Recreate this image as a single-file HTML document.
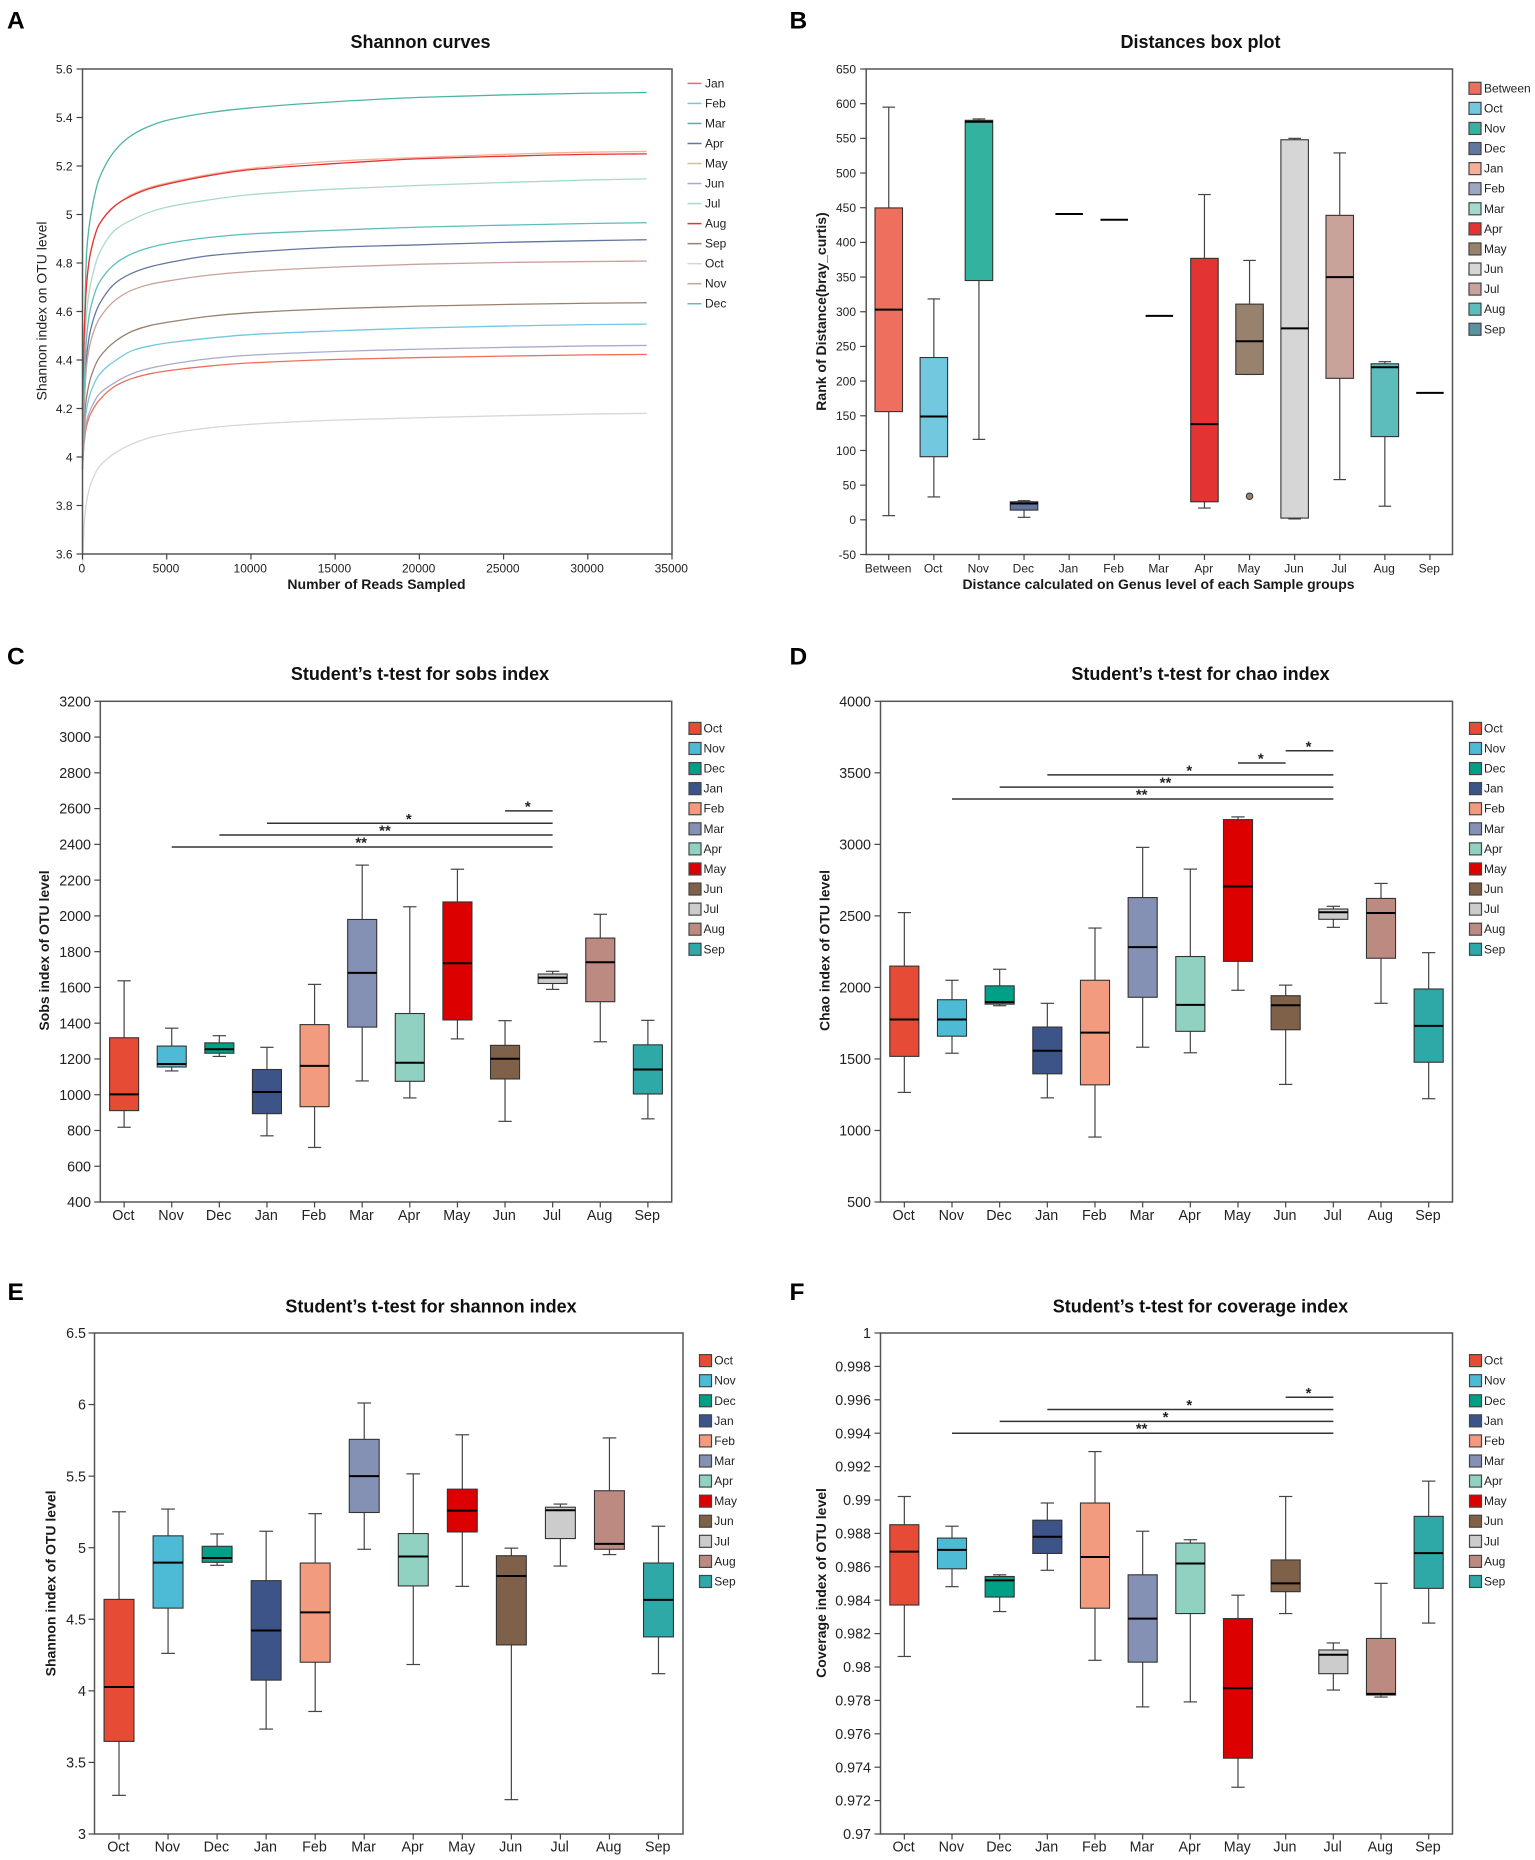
<!DOCTYPE html>
<html lang="en">
<head>
<meta charset="utf-8">
<title>Diversity index charts</title>
<style>
html,body{margin:0;padding:0;background:#fff;}
svg{display:block;filter:blur(0.3px);}
text{font-family:"Liberation Sans",Arial,sans-serif;fill:#222;}
.title{font-size:18px;font-weight:bold;text-anchor:middle;fill:#111;}
.letter{font-size:24.5px;font-weight:bold;fill:#000;}
.ax{font-size:14px;font-weight:bold;text-anchor:middle;fill:#1a1a1a;}
.axr{font-size:14px;text-anchor:middle;fill:#222;}
</style>
</head>
<body>
<svg id="fig" xmlns="http://www.w3.org/2000/svg" width="1535" height="1860" viewBox="0 0 1535 1860">
  <rect x="0" y="0" width="1535" height="1860" fill="#fff"/>
  <text class="letter" x="7" y="28.5">A</text>
  <text class="letter" x="789.5" y="28.5">B</text>
  <text class="letter" x="7" y="664.5">C</text>
  <text class="letter" x="789.5" y="664.5">D</text>
  <text class="letter" x="7.5" y="1300">E</text>
  <text class="letter" x="789.5" y="1300">F</text>

  <text class="title" x="420.5" y="48">Shannon curves</text>
  <text class="title" x="1200.5" y="48">Distances box plot</text>
  <text class="title" x="420" y="680">Student’s t-test for sobs index</text>
  <text class="title" x="1200.5" y="680">Student’s t-test for chao index</text>
  <text class="title" x="431" y="1312.5">Student’s t-test for shannon index</text>
  <text class="title" x="1200.5" y="1312.5">Student’s t-test for coverage index</text>

  <text class="axr" transform="translate(46.7 311) rotate(-90)">Shannon index on OTU level</text>
  <text class="ax" x="376.5" y="589">Number of Reads Sampled</text>
  <text class="ax" transform="translate(826 311.5) rotate(-90)">Rank of Distance(bray_curtis)</text>
  <text class="ax" x="1158.5" y="589">Distance calculated on Genus level of each Sample groups</text>
  <text class="ax" transform="translate(49 950.5) rotate(-90)">Sobs index of OTU level</text>
  <text class="ax" transform="translate(829.6 950.5) rotate(-90)">Chao index of OTU level</text>
  <text class="ax" transform="translate(55.5 1583.4) rotate(-90)">Shannon index of OTU level</text>
  <text class="ax" transform="translate(826 1583) rotate(-90)">Coverage index of OTU level</text>
</svg>

<script>
// ---------- Panel A data ----------
const curveMonths = ['Jan','Feb','Mar','Apr','May','Jun','Jul','Aug','Sep','Oct','Nov','Dec'];
const readsSampled = [0,100,250,500,1000,2000,3000,4000,5000,7500,10000,15000,20000,25000,30000,33500];
const shannonJan = [3.95,4.06,4.13,4.18,4.235,4.295,4.325,4.343,4.355,4.375,4.388,4.402,4.41,4.416,4.421,4.423];
const shannonFeb = [3.95,4.10,4.20,4.27,4.34,4.40,4.44,4.458,4.47,4.49,4.505,4.52,4.532,4.54,4.546,4.548];
const shannonMar = [4.2,4.5,4.85,5.0,5.15,5.27,5.33,5.365,5.388,5.42,5.44,5.465,5.483,5.493,5.50,5.503];
const shannonApr = [4.0,4.25,4.42,4.53,4.63,4.72,4.76,4.784,4.80,4.83,4.845,4.865,4.875,4.885,4.892,4.896];
const shannonMay = [4.2,4.5,4.72,4.85,4.96,5.04,5.085,5.112,5.13,5.165,5.19,5.22,5.235,5.248,5.257,5.26];
const shannonJun = [3.95,4.08,4.15,4.2,4.26,4.31,4.345,4.366,4.38,4.405,4.42,4.435,4.445,4.452,4.458,4.46];
const shannonJul = [4.1,4.4,4.6,4.72,4.84,4.94,4.98,5.01,5.03,5.06,5.082,5.105,5.12,5.132,5.142,5.147];
const shannonAug = [4.2,4.5,4.72,4.85,4.96,5.04,5.08,5.107,5.125,5.16,5.185,5.21,5.23,5.24,5.248,5.25];
const shannonSep = [3.95,4.15,4.25,4.33,4.41,4.48,4.52,4.542,4.555,4.58,4.595,4.612,4.622,4.629,4.634,4.636];
const shannonOct = [3.55,3.72,3.82,3.89,3.96,4.02,4.055,4.08,4.095,4.12,4.135,4.152,4.162,4.17,4.177,4.18];
const shannonNov = [3.95,4.2,4.38,4.48,4.57,4.65,4.69,4.712,4.725,4.75,4.765,4.783,4.795,4.802,4.806,4.808];
const shannonDec = [4.05,4.3,4.5,4.62,4.72,4.80,4.84,4.864,4.88,4.905,4.92,4.935,4.948,4.956,4.963,4.966];
const curveXTicks = [0,5000,10000,15000,20000,25000,30000,35000];
const curveYTicks = [3.6,3.8,4,4.2,4.4,4.6,4.8,5,5.2,5.4,5.6];

// ---------- Panel B data ----------
const distGroups = ['Between','Oct','Nov','Dec','Jan','Feb','Mar','Apr','May','Jun','Jul','Aug','Sep'];
const distHigh   = [595,318.5,578,27.6,441,432.6,294,469,374,550,529,228,183];
const distQ3     = [449.7,234,576,26,441,432.6,294,377,311,548,439,225,183];
const distMedian = [303,149,574,23.6,441,432.6,294,138,257.5,276,350,220,183];
const distQ1     = [156,91,345,14,441,432.6,294,26,209.6,2.5,204,120,183];
const distLow    = [6,33,116,3.6,441,432.6,294,17,209.6,1.3,58,19.6,183];
const distOutlierGroups = ['May'];
const distOutlierValues = [34];
const distYTicks = [-50,0,50,100,150,200,250,300,350,400,450,500,550,600,650];

// ---------- Shared months for panels C-F ----------
const testMonths = ['Oct','Nov','Dec','Jan','Feb','Mar','Apr','May','Jun','Jul','Aug','Sep'];

// ---------- Panel C data ----------
const sobsHigh   = [1637,1372,1330,1265,1617,2284,2051,2261,1414,1690,2009,1416];
const sobsQ3     = [1318.5,1272,1290,1141,1392,1980,1454,2078,1276,1675,1876,1279];
const sobsMedian = [1002,1172,1254,1015,1161,1681,1179,1735,1201,1655,1741,1141];
const sobsQ1     = [911,1155,1232,894,933,1378,1075,1418,1088,1622,1520,1004];
const sobsLow    = [818,1133,1214,770,705,1077,982,1312,851,1589,1296,865];
const sobsYTicks = [400,600,800,1000,1200,1400,1600,1800,2000,2200,2400,2600,2800,3000,3200];
const sobsSigFrom  = ['Jun','Jan','Dec','Nov'];
const sobsSigTo    = ['Jul','Jul','Jul','Jul'];
const sobsSigLevel = [2587,2518,2452,2385];
const sobsSigStars = ['*','*','**','**'];

// ---------- Panel D data ----------
const chaoHigh   = [2523,2050,2127,1889,2415,2979,2827,3192,2016,2567,2727,2243];
const chaoQ3     = [2149,1914,2011,1723,2050,2628,2216,3173,1942,2548,2622,1989];
const chaoMedian = [1776,1776,1897,1557,1684,2282,1878,2705,1875,2525,2520,1731];
const chaoQ1     = [1518,1659,1883,1396,1319,1931,1693,2182,1704,2476,2204,1477];
const chaoLow    = [1266,1540,1872,1228,954,1582,1543,1980,1322,2420,1889,1222];
const chaoYTicks = [500,1000,1500,2000,2500,3000,3500,4000];
const chaoSigFrom  = ['Jun','May','Jan','Dec','Nov'];
const chaoSigTo    = ['Jul','Jun','Jul','Jul','Jul'];
const chaoSigLevel = [3654,3569,3486,3400,3317];
const chaoSigStars = ['*','*','*','**','**'];

// ---------- Panel E data ----------
const shanHigh   = [5.251,5.27,5.096,5.115,5.238,6.011,5.516,5.789,4.997,5.305,5.767,5.15];
const shanQ3     = [4.639,5.083,5.01,4.77,4.893,5.757,5.099,5.409,4.944,5.283,5.398,4.893];
const shanMedian = [4.027,4.896,4.928,4.422,4.548,5.5,4.939,5.259,4.802,5.262,5.027,4.636];
const shanQ1     = [3.647,4.578,4.898,4.075,4.2,5.246,4.733,5.11,4.321,5.064,4.989,4.377];
const shanLow    = [3.27,4.262,4.877,3.733,3.856,4.989,4.184,4.73,3.24,4.872,4.952,4.12];
const shanYTicks = [3,3.5,4,4.5,5,5.5,6,6.5];

// ---------- Panel F data ----------
const covHigh   = [0.99021,0.98843,0.98552,0.98982,0.9929,0.98813,0.98762,0.9843,0.99021,0.98144,0.98501,0.99113];
const covQ3     = [0.98852,0.98772,0.98542,0.98879,0.98982,0.98552,0.98742,0.9829,0.98641,0.98102,0.98171,0.98902];
const covMedian = [0.98691,0.98701,0.98519,0.9878,0.98659,0.9829,0.9862,0.97873,0.98501,0.98073,0.97839,0.98682];
const covQ1     = [0.98371,0.98588,0.98419,0.9868,0.98352,0.98029,0.9832,0.97454,0.98451,0.9796,0.97832,0.98471];
const covLow    = [0.98063,0.98481,0.98332,0.98579,0.9804,0.97761,0.97791,0.9728,0.9832,0.97862,0.9782,0.98263];
const covYTicks = [0.97,0.972,0.974,0.976,0.978,0.98,0.982,0.984,0.986,0.988,0.99,0.992,0.994,0.996,0.998,1];
const covSigFrom  = ['Jun','Jan','Dec','Nov'];
const covSigTo    = ['Jul','Jul','Jul','Jul'];
const covSigLevel = [0.99615,0.99542,0.99471,0.994];
const covSigStars = ['*','*','*','**'];

// ---------- Styles ----------
const curveColors = ['#EE6F5D','#71C8DF','#4FB5A3','#6376A0','#F6AF99','#A5ADCB','#A7DACE','#E33333','#98816D','#D6D6D6','#C9A29A','#5DBDBD'];
const distColors = ['#EE6F5D','#71C8DF','#33B39F','#6376A0','#F6AF99','#9DA7C3','#A7DACE','#E33333','#98816D','#D6D6D6','#C9A29A','#5DBDBD','#5A93A0'];
const testColors = ['#E64B35','#4DBBD5','#00A087','#3C5488','#F39B7F','#8491B4','#91D1C2','#DC0000','#7E6148','#CCCCCC','#BC8A80','#2FA8A8'];

const NS = 'http://www.w3.org/2000/svg';
const fig = document.getElementById('fig');

function make(tag, attrs, parent) {
  const node = document.createElementNS(NS, tag);
  for (const k in attrs) node.setAttribute(k, attrs[k]);
  parent.appendChild(node);
  return node;
}
function linear(d0, d1, r0, r1) {
  return v => r0 + (v - d0) * (r1 - r0) / (d1 - d0);
}
function drawFrame(parent, g) {
  const frame = make('rect', {x:g.left, y:g.top, width:g.right-g.left, height:g.bottom-g.top, fill:'none', stroke:'#555', 'stroke-width':1.5}, parent);
  
  
}
function drawYAxis(parent, g, ticks, y, fontSize, labelRight) {
  const axis = make('g', {}, parent);
  
  
  ticks.forEach(t => {
    const tick = make('line', {x1:g.left-6, x2:g.left, y1:y(t), y2:y(t), stroke:'#444', 'stroke-width':1.2}, axis);
    
    
    const label = make('text', {x:labelRight, y:y(t)+fontSize*0.36, 'text-anchor':'end', 'font-size':fontSize}, axis);
    
    
    label.textContent = String(t);
  });
}
function drawXTicks(parent, g, labels, xOf, fontSize, baseline) {
  const axis = make('g', {}, parent);
  
  
  labels.forEach((t, i) => {
    const px = xOf(t, i);
    const tick = make('line', {x1:px, x2:px, y1:g.bottom, y2:g.bottom+5.5, stroke:'#444', 'stroke-width':1.2}, axis);
    
    
    const label = make('text', {x:px-0.7, y:baseline, 'text-anchor':'middle', 'font-size':fontSize}, axis);
    
    
    label.textContent = String(t);
  });
}
function drawSwatchLegend(parent, labels, colors, swatchX, textX, firstY, step) {
  const legend = make('g', {}, parent);
  
  
  labels.forEach((name, i) => {
    const cy = firstY + i * step;
    const swatch = make('rect', {x:swatchX, y:cy-6, width:12, height:12, fill:colors[i], stroke:'#444', 'stroke-width':1.2}, legend);
    
    
    const text = make('text', {x:textX, y:cy+4, 'font-size':12}, legend);
    
    
    text.textContent = name;
  });
}
function drawBoxes(parent, g, cats, y, high, q3, median, q1, low, colors) {
  const band = (g.right - g.left) / cats.length;
  const series = make('g', {}, parent);
  
  
  cats.forEach((name, i) => {
    const cx = g.left + (i + 0.5) * band;
    const bw = band * 0.61;
    const cw = band * 0.28;
    const group = make('g', {}, series);
    
    
    const stem = make('line', {x1:cx, x2:cx, y1:y(high[i]), y2:y(low[i]), stroke:'#444', 'stroke-width':1.2}, group);
    
    
    if (high[i] !== low[i]) {
      const capTop = make('line', {x1:cx-cw/2, x2:cx+cw/2, y1:y(high[i]), y2:y(high[i]), stroke:'#444', 'stroke-width':1.2}, group);
      
      
      const capBottom = make('line', {x1:cx-cw/2, x2:cx+cw/2, y1:y(low[i]), y2:y(low[i]), stroke:'#444', 'stroke-width':1.2}, group);
      
      
      const body = make('rect', {x:cx-bw/2, y:y(q3[i]), width:bw, height:Math.max(0, y(q1[i])-y(q3[i])), fill:colors[i], stroke:'#333', 'stroke-width':1.1}, group);
      
      
    }
    const med = make('line', {x1:cx-bw/2, x2:cx+bw/2, y1:y(median[i]), y2:y(median[i]), stroke:'#000', 'stroke-width':2}, group);
    
    
  });
}
function drawSig(parent, g, cats, y, from, to, level, stars) {
  const band = (g.right - g.left) / cats.length;
  const xOf = name => g.left + (cats.indexOf(name) + 0.5) * band;
  const layer = make('g', {}, parent);
  
  
  level.forEach((v, i) => {
    const x1 = xOf(from[i]);
    const x2 = xOf(to[i]);
    const bar = make('line', {x1:x1, x2:x2, y1:y(v), y2:y(v), stroke:'#333', 'stroke-width':1.5}, layer);
    
    
    const star = make('text', {x:(x1+x2)/2-1, y:y(v)+0.5, 'text-anchor':'middle', 'font-size':15, 'font-weight':'bold'}, layer);
    
    
    star.textContent = stars[i];
  });
}
function curvePath(px, py) {
  const n = px.length;
  const d = [];
  for (let i = 0; i < n - 1; i++) d.push((py[i+1]-py[i]) / (px[i+1]-px[i]));
  const m = [d[0]];
  for (let i = 1; i < n - 1; i++) {
    m.push(d[i-1]*d[i] > 0 ? 2*d[i-1]*d[i]/(d[i-1]+d[i]) : 0);
  }
  m.push(d[n-2]);
  let out = 'M' + px[0].toFixed(2) + ' ' + py[0].toFixed(2);
  for (let i = 0; i < n - 1; i++) {
    const h = (px[i+1]-px[i]) / 3;
    out += 'C' + (px[i]+h).toFixed(2) + ' ' + (py[i]+m[i]*h).toFixed(2) + ' ' +
           (px[i+1]-h).toFixed(2) + ' ' + (py[i+1]-m[i+1]*h).toFixed(2) + ' ' +
           px[i+1].toFixed(2) + ' ' + py[i+1].toFixed(2);
  }
  return out;
}

// ---------- Panel A ----------
(function () {
  const g = {left:82.5, right:672, top:69, bottom:554};
  const panel = make('g', {}, fig);
  
  
  const x = linear(0, 35000, g.left, g.right);
  const y = linear(3.6, 5.6, g.bottom, g.top);
  const series = [shannonJan, shannonFeb, shannonMar, shannonApr, shannonMay, shannonJun, shannonJul, shannonAug, shannonSep, shannonOct, shannonNov, shannonDec];
  curveMonths.forEach((name, i) => {
    const line = make('path', {d:curvePath(readsSampled.map(x), series[i].map(y)), fill:'none', stroke:curveColors[i], 'stroke-width':1.3}, panel);
    
    
  });
  drawFrame(panel, g);
  drawYAxis(panel, g, curveYTicks, y, 12, 72.5);
  drawXTicks(panel, g, curveXTicks, t => x(t), 12, 572.5);
  const legend = make('g', {}, panel);
  
  
  curveMonths.forEach((name, i) => {
    const cy = 83.4 + i * 20.03;
    const key = make('line', {x1:687.5, x2:701.5, y1:cy, y2:cy, stroke:curveColors[i], 'stroke-width':1.5}, legend);
    
    
    const text = make('text', {x:705, y:cy+4, 'font-size':12}, legend);
    
    
    text.textContent = name;
  });
})();

// ---------- Panel B ----------
(function () {
  const g = {left:866.2, right:1452.5, top:69, bottom:554.5};
  const panel = make('g', {}, fig);
  
  
  const y = linear(-50, 650, g.bottom, g.top);
  const band = (g.right - g.left) / distGroups.length;
  drawBoxes(panel, g, distGroups, y, distHigh, distQ3, distMedian, distQ1, distLow, distColors);
  distOutlierGroups.forEach((name, i) => {
    const idx = distGroups.indexOf(name);
    const dot = make('circle', {cx:g.left+(idx+0.5)*band, cy:y(distOutlierValues[i]), r:3.3, fill:distColors[idx], stroke:'#333', 'stroke-width':1}, panel);
    
    
  });
  drawFrame(panel, g);
  drawYAxis(panel, g, distYTicks, y, 12, 856);
  drawXTicks(panel, g, distGroups, (t, i) => g.left + (i + 0.5) * band, 12, 572.5);
  drawSwatchLegend(panel, distGroups, distColors, 1469, 1484, 88.3, 20.08);
})();

// ---------- Panels C-F ----------
function testPanel(name, g, yMin, yMax, ticks, high, q3, med, q1, low, labelRight, baseline, legendSwatchX, legendTextX, legendY, sig) {
  const panel = make('g', {}, fig);
  
  
  const y = linear(yMin, yMax, g.bottom, g.top);
  const band = (g.right - g.left) / testMonths.length;
  drawBoxes(panel, g, testMonths, y, high, q3, med, q1, low, testColors);
  if (sig) drawSig(panel, g, testMonths, y, sig[0], sig[1], sig[2], sig[3]);
  drawFrame(panel, g);
  drawYAxis(panel, g, ticks, y, 14.3, labelRight);
  drawXTicks(panel, g, testMonths, (t, i) => g.left + (i + 0.5) * band, 14.3, baseline);
  drawSwatchLegend(panel, testMonths, testColors, legendSwatchX, legendTextX, legendY, 20.08);
}
testPanel('sobs-index-chart', {left:100.3, right:671.7, top:701.3, bottom:1202}, 400, 3200, sobsYTicks,
  sobsHigh, sobsQ3, sobsMedian, sobsQ1, sobsLow, 91, 1220, 689, 703.5, 728.4,
  [sobsSigFrom, sobsSigTo, sobsSigLevel, sobsSigStars]);
testPanel('chao-index-chart', {left:880.5, right:1452.5, top:701.3, bottom:1202}, 500, 4000, chaoYTicks,
  chaoHigh, chaoQ3, chaoMedian, chaoQ1, chaoLow, 871, 1220, 1469.5, 1484, 728.4,
  [chaoSigFrom, chaoSigTo, chaoSigLevel, chaoSigStars]);
testPanel('shannon-index-chart', {left:94.5, right:683, top:1333, bottom:1834}, 3, 6.5, shanYTicks,
  shanHigh, shanQ3, shanMedian, shanQ1, shanLow, 86, 1851.5, 699.5, 714.3, 1360.6, null);
testPanel('coverage-index-chart', {left:880.5, right:1452.5, top:1333, bottom:1834}, 0.97, 1, covYTicks,
  covHigh, covQ3, covMedian, covQ1, covLow, 871, 1851.5, 1469.5, 1484, 1360.6,
  [covSigFrom, covSigTo, covSigLevel, covSigStars]);
</script>
</body>
</html>
